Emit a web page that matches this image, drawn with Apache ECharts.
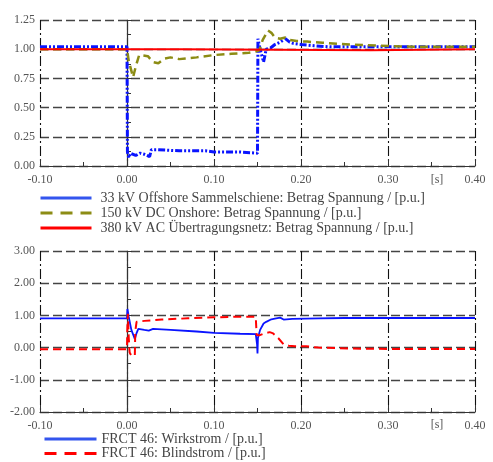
<!DOCTYPE html>
<html>
<head>
<meta charset="utf-8">
<script src="https://cdn.jsdelivr.net/npm/echarts@6/dist/echarts.min.js"></script>
<style>
  html, body { margin: 0; padding: 0; background: #fff; }
  #chart { width: 493px; height: 462px; }
</style>
</head>
<body>
<div id="chart"></div>
<script>
// Time axis ticks [s]
const xTicks = [-0.10, 0.40, 0.10];
const voltTicks = [0, 1.25, 0.25];
const currTicks = [-2, 3, 1];

// Upper panel: voltages [p.u.]
const busName = '33 kV Offshore Sammelschiene: Betrag Spannung / [p.u.]';
const busT = [-0.10, 0.0, 0.0005, 0.002, 0.004, 0.006, 0.010, 0.015, 0.020, 0.026, 0.028, 0.035, 0.06, 0.09, 0.10, 0.13, 0.150, 0.1505, 0.153, 0.157, 0.160, 0.165, 0.170, 0.176, 0.182, 0.187, 0.191, 0.20, 0.215, 0.233, 0.26, 0.30, 0.35, 0.40];
const busV = [1.02, 1.02, 0.12, 0.07, 0.11, 0.10, 0.09, 0.11, 0.10, 0.08, 0.14, 0.14, 0.13, 0.13, 0.12, 0.12, 0.11, 1.09, 1.00, 0.89, 1.00, 1.01, 1.04, 1.06, 1.09, 1.06, 1.05, 1.04, 1.03, 1.02, 1.02, 1.02, 1.02, 1.02];

const dcName = '150 kV DC Onshore: Betrag Spannung / [p.u.]';
const dcT = [-0.10, 0.0, 0.002, 0.007, 0.010, 0.014, 0.024, 0.030, 0.036, 0.043, 0.05, 0.06, 0.08, 0.10, 0.12, 0.14, 0.148, 0.152, 0.156, 0.162, 0.166, 0.170, 0.176, 0.182, 0.187, 0.195, 0.207, 0.225, 0.256, 0.29, 0.33, 0.40];
const dcV = [1.00, 1.00, 0.90, 0.76, 0.85, 0.95, 0.94, 0.89, 0.88, 0.92, 0.93, 0.915, 0.93, 0.95, 0.96, 0.97, 0.98, 0.99, 1.08, 1.16, 1.14, 1.10, 1.09, 1.10, 1.08, 1.07, 1.065, 1.055, 1.04, 1.03, 1.02, 1.02];

const acName = '380 kV AC Übertragungsnetz: Betrag Spannung / [p.u.]';
const acT = [-0.10, 0.063, 0.0635, 0.28, 0.2805, 0.40];
const acV = [1.00, 1.00, 0.99, 0.99, 1.00, 1.00];

// Lower panel: converter currents [p.u.]
const activeName = 'FRCT 46: Wirkstrom / [p.u.]';
const activeT = [-0.10, 0.0, 0.0005, 0.002, 0.005, 0.009, 0.011, 0.013, 0.02, 0.025, 0.03, 0.05, 0.08, 0.10, 0.13, 0.148, 0.1495, 0.150, 0.1505, 0.153, 0.157, 0.160, 0.166, 0.170, 0.176, 0.180, 0.19, 0.22, 0.25, 0.40];
const activeV = [0.91, 0.91, 1.20, 0.95, 0.55, 0.27, 0.45, 0.58, 0.55, 0.53, 0.58, 0.55, 0.50, 0.46, 0.43, 0.42, 0.10, -0.18, 0.30, 0.55, 0.75, 0.80, 0.88, 0.90, 0.93, 0.87, 0.89, 0.91, 0.92, 0.92];

const reactiveName = 'FRCT 46: Blindstrom / [p.u.]';
const reactiveT = [-0.10, 0.0, 0.0003, 0.001, 0.002, 0.003, 0.005, 0.009, 0.0095, 0.011, 0.02, 0.04, 0.07, 0.10, 0.13, 0.148, 0.149, 0.152, 0.158, 0.164, 0.168, 0.174, 0.18, 0.186, 0.193, 0.206, 0.22, 0.256, 0.30, 0.40];
const reactiveV = [-0.05, -0.05, 0.50, 1.05, 0.30, -0.15, -0.25, -0.25, 0.50, 0.80, 0.83, 0.87, 0.91, 0.94, 0.96, 0.96, 0.39, 0.38, 0.44, 0.48, 0.44, 0.29, 0.10, 0.06, 0.04, 0.04, 0.00, -0.03, -0.04, -0.04];

const pairs = (t, v) => t.map((x, i) => [x, v[i]]);

const FONT = 'Liberation Serif, Times New Roman, serif';
const labelStyle = { color: '#555', fontFamily: FONT, fontSize: 12 };

function xAxis(gridIndex) {
  return {
    type: 'value', gridIndex,
    min: xTicks[0], max: xTicks[1], interval: xTicks[2],
    axisLine: { onZero: false, lineStyle: { color: '#333', width: 1.2 } },
    axisTick: { show: true, inside: true, length: 7, lineStyle: { color: '#333' } },
    minorTick: { show: true, splitNumber: 2, length: 4, lineStyle: { color: '#333' } },
    splitLine: { show: true, showMinLine: true, showMaxLine: true, lineStyle: { color: '#111', width: 1.1, type: [10, 3, 2, 3], opacity: 1 } },
    axisLabel: Object.assign({ margin: 8, formatter: v => v.toFixed(2) }, labelStyle)
  };
}
function yAxis(gridIndex, ticks) {
  return {
    type: 'value', gridIndex,
    min: ticks[0], max: ticks[1], interval: ticks[2],
    axisLine: { show: true, lineStyle: { color: '#333', width: 1.2 } },
    axisTick: { show: true, inside: true, length: 5, lineStyle: { color: '#333' } },
    minorTick: { show: true, splitNumber: 2, length: 4, lineStyle: { color: '#333' } },
    splitLine: { show: true, showMinLine: true, showMaxLine: true, lineStyle: { color: '#444', width: 1.3, type: [9, 4], opacity: 1 } },
    axisLabel: Object.assign({ margin: 5, formatter: v => v.toFixed(2) }, labelStyle)
  };
}

const legendText = { color: '#444', fontFamily: FONT, fontSize: 14, padding: [0, 0, 0, 5] };
const hiddenSymbol = { opacity: 0, borderWidth: 0 };

const option = {
  animation: false,
  backgroundColor: '#fff',
  grid: [
    { left: 40, right: 18, top: 20, height: 146 },
    { left: 40, right: 18, top: 251, height: 161 }
  ],
  xAxis: [xAxis(0), xAxis(1)],
  yAxis: [yAxis(0, voltTicks), yAxis(1, currTicks)],
  legend: [
    {
      orient: 'vertical', left: 39, top: 191, padding: 0, height: 60,
      itemWidth: 51, itemHeight: 14, itemGap: 1,
      textStyle: Object.assign({}, legendText, { padding: [0, 0, 0, 4] }),
      itemStyle: hiddenSymbol,
      data: [
        { name: busName, lineStyle: { type: 'solid', width: 3, color: '#3355ee' } },
        { name: dcName, lineStyle: { type: [12, 8], width: 3 } },
        { name: acName, lineStyle: { type: 'solid', width: 3 } }
      ]
    },
    {
      orient: 'vertical', left: 43, top: 432, padding: 0, height: 40,
      itemWidth: 52, itemHeight: 14, itemGap: 0.5,
      textStyle: Object.assign({}, legendText, { padding: [0, 0, 0, 0] }),
      itemStyle: hiddenSymbol,
      data: [
        { name: activeName, lineStyle: { type: 'solid', width: 3, color: '#3355ee' } },
        { name: reactiveName, lineStyle: { type: [12, 8], width: 3 } }
      ]
    }
  ],
  graphic: [
    { type: 'text', x: 437, y: 180, style: { text: '[s]', fill: '#555', font: '12px ' + FONT, align: 'center', verticalAlign: 'middle' } },
    { type: 'text', x: 437, y: 425, style: { text: '[s]', fill: '#555', font: '12px ' + FONT, align: 'center', verticalAlign: 'middle' } }
  ],
  series: [
    {
      name: busName, type: 'line', xAxisIndex: 0, yAxisIndex: 0,
      symbol: 'none', data: pairs(busT, busV),
      lineStyle: { color: '#0a14ff', width: 3, type: [7, 2, 2, 2, 2, 2] },
      itemStyle: { color: '#0a14ff' }
    },
    {
      name: dcName, type: 'line', xAxisIndex: 0, yAxisIndex: 0,
      symbol: 'none', data: pairs(dcT, dcV),
      lineStyle: { color: '#8c8c14', width: 2.5, type: [8, 5] },
      itemStyle: { color: '#8c8c14' }
    },
    {
      name: acName, type: 'line', xAxisIndex: 0, yAxisIndex: 0,
      symbol: 'none', data: pairs(acT, acV),
      lineStyle: { color: '#ff0000', width: 2 },
      itemStyle: { color: '#ff0000' }
    },
    {
      name: activeName, type: 'line', xAxisIndex: 1, yAxisIndex: 1,
      symbol: 'none', data: pairs(activeT, activeV),
      lineStyle: { color: '#0a14ff', width: 1.8 },
      itemStyle: { color: '#0a14ff' }
    },
    {
      name: reactiveName, type: 'line', xAxisIndex: 1, yAxisIndex: 1,
      symbol: 'none', data: pairs(reactiveT, reactiveV),
      lineStyle: { color: '#ff0000', width: 2, type: [8, 5] },
      itemStyle: { color: '#ff0000' }
    }
  ]
};

const chart = echarts.init(document.getElementById('chart'), null, { renderer: 'canvas' });
chart.setOption(option);
</script>
</body>
</html>
